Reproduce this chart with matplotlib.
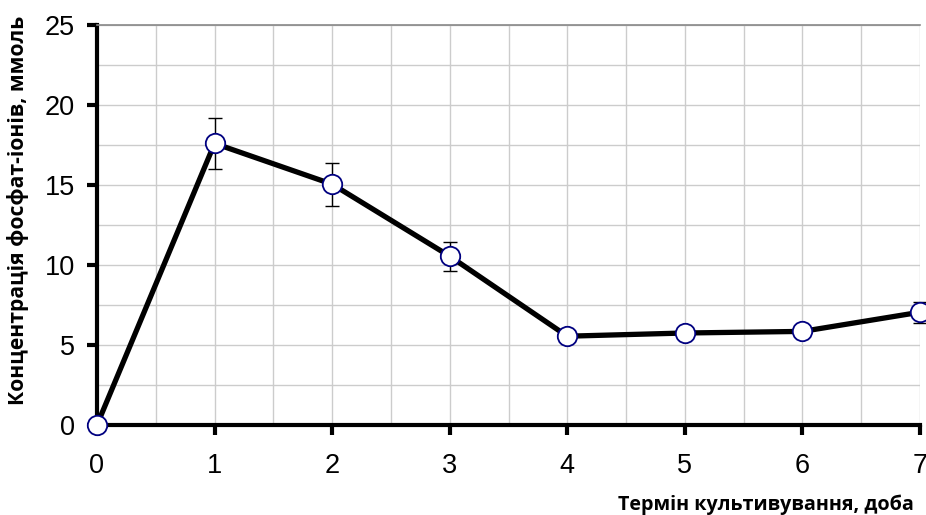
import numpy as np
import matplotlib
matplotlib.use("Agg")
import matplotlib.pyplot as plt
from matplotlib.ticker import MultipleLocator

# Дані
doba = [0, 1, 2, 3, 4, 5, 6, 7]
koncentr = [0.0, 17.6, 15.05, 10.55, 5.55, 5.75, 5.85, 7.05]
pohybka = [0.0, 1.6, 1.35, 0.9, 0.3, 0.3, 0.35, 0.65]

xticks = [0, 1, 2, 3, 4, 5, 6, 7]
yticks = [0, 5, 10, 15, 20, 25]

fig = plt.figure(figsize=(9.26, 5.15), dpi=100)
ax = fig.add_axes([97 / 926, 90 / 515, (920 - 97) / 926, 400 / 515])

# Сітка
ax.xaxis.set_minor_locator(MultipleLocator(0.5))
ax.yaxis.set_minor_locator(MultipleLocator(2.5))
ax.grid(True, which="both", color="#cccccc", lw=1.0, zorder=0)

ax.errorbar(doba, koncentr, yerr=pohybka, fmt="none", ecolor="black",
            elinewidth=1.0, capsize=5, capthick=1.0, zorder=3, clip_on=False)
ax.plot(doba, koncentr, color="black", lw=3.8, marker="o", markersize=14,
        markerfacecolor="white", markeredgecolor="#000080", markeredgewidth=1.3,
        zorder=4, clip_on=False)

ax.set_xlim(0, 7)
ax.set_ylim(0, 25)
ax.set_xticks(xticks)
ax.set_yticks(yticks)

for s in ["left", "bottom"]:
    ax.spines[s].set_linewidth(3.0)
    ax.spines[s].set_color("black")
ax.spines["top"].set_color("#888888")
ax.spines["top"].set_linewidth(1.2)
ax.spines["right"].set_visible(False)

ax.tick_params(axis="both", which="major", direction="out", length=7, width=3,
               labelsize=19.5, colors="black")
ax.tick_params(axis="x", pad=13)
ax.tick_params(axis="y", pad=9)
ax.tick_params(axis="both", which="minor", length=0)
for lab in ax.get_xticklabels() + ax.get_yticklabels():
    lab.set_fontfamily("Liberation Sans")

fig.text(914 / 926, 1 - 510 / 515, "Термін культивування, доба", ha="right", va="baseline",
         fontsize=14.2, fontweight="bold", family="Open Sans")
fig.text(18 / 926, 1 - 210 / 515, "Концентрація фосфат-іонів, ммоль", ha="center", va="center",
         rotation=90, fontsize=15.2, fontweight="bold", family="Open Sans")

fig.savefig("out.png", dpi=100)
